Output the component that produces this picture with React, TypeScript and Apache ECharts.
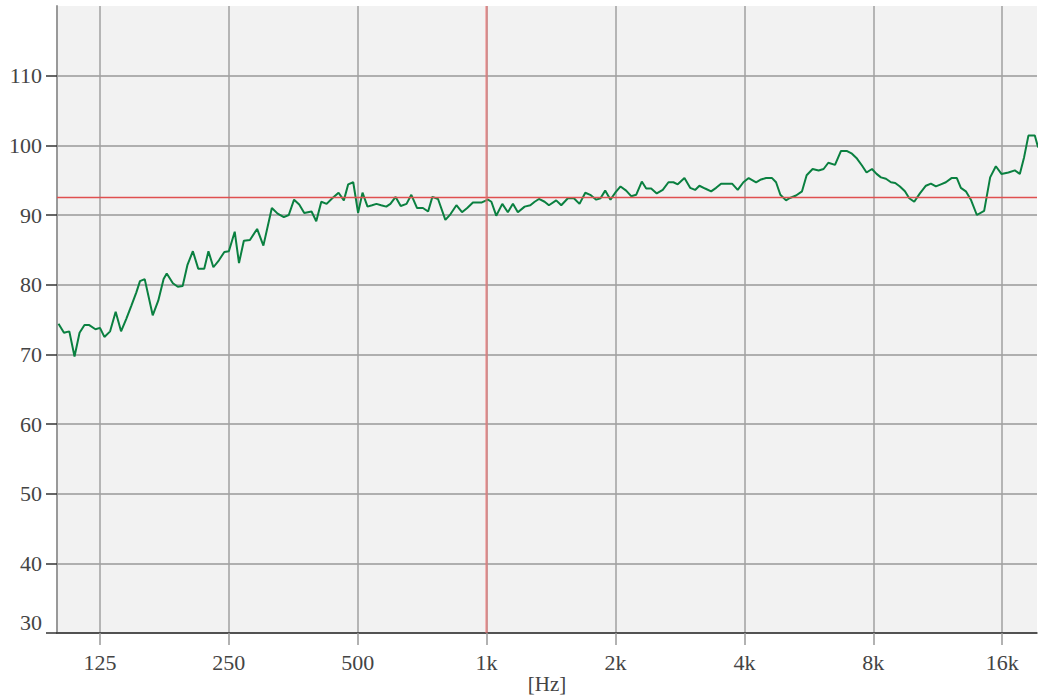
import React, { useEffect, useRef } from "react";
import * as echarts from "echarts";

// Frequencies (Hz) of the measured curve and their levels (dB)
const freqs: number[] = [
  100, 103, 106, 109, 112, 115, 118, 122, 125, 128, 132, 136, 140, 144, 148, 152, 155, 159, 166, 171,
  176, 179, 185, 190, 195, 200, 206, 212, 219, 224, 230, 237, 244, 250, 258, 264, 271, 280, 291, 301,
  315, 325, 336, 345, 355, 365, 375, 390, 400, 411, 423, 436, 451, 464, 475, 488, 501, 513, 527, 540,
  553, 567, 583, 596, 613, 630, 650, 667, 688, 710, 730, 747, 770, 801, 823, 850, 876, 901, 929, 953,
  975, 1007, 1026, 1053, 1088, 1121, 1152, 1183, 1227, 1265, 1295, 1325, 1366, 1398, 1454, 1494, 1548, 1599, 1648, 1700,
  1746, 1803, 1845, 1892, 1947, 1997, 2055, 2118, 2176, 2235, 2304, 2359, 2423, 2497, 2579, 2659, 2731, 2795, 2898, 2988,
  3069, 3141, 3239, 3345, 3436, 3529, 3636, 3744, 3859, 3979, 4094, 4260, 4376, 4495, 4642, 4743, 4854, 5005, 5094, 5281,
  5454, 5591, 5774, 5963, 6125, 6282, 6512, 6726, 6931, 7135, 7329, 7529, 7717, 7945, 8143, 8338, 8565, 8799, 9004, 9234,
  9486, 9708, 9972, 10282, 10619, 10908, 11205, 11510, 11823, 12184, 12543, 12815, 13164, 13523, 13966, 14525, 15001, 15468, 15940, 16552,
  17131, 17597, 18008, 18429, 19074, 19415,
];
const levels: number[] = [
  74.4, 73.1, 73.3, 69.7, 73.1, 74.2, 74.2, 73.6, 73.8, 72.5, 73.3, 76.1, 73.3, 75.1, 77.0, 78.9, 80.5, 80.8, 75.6, 77.7,
  80.8, 81.6, 80.2, 79.7, 79.8, 82.8, 84.8, 82.3, 82.3, 84.8, 82.5, 83.5, 84.7, 84.8, 87.6, 83.1, 86.3, 86.4, 88.0, 85.6,
  91.0, 90.2, 89.7, 90.0, 92.2, 91.5, 90.3, 90.5, 89.1, 91.9, 91.6, 92.4, 93.2, 92.1, 94.4, 94.7, 90.3, 93.2, 91.2, 91.4,
  91.6, 91.4, 91.2, 91.6, 92.6, 91.3, 91.6, 92.9, 91.0, 91.0, 90.5, 92.6, 92.3, 89.3, 90.1, 91.4, 90.4, 91.0, 91.8, 91.8,
  91.8, 92.2, 91.9, 89.9, 91.6, 90.4, 91.6, 90.4, 91.2, 91.4, 91.9, 92.3, 91.9, 91.4, 92.1, 91.4, 92.4, 92.4, 91.6, 93.2,
  92.9, 92.2, 92.4, 93.5, 92.2, 93.2, 94.1, 93.5, 92.7, 92.9, 94.8, 93.8, 93.8, 93.1, 93.6, 94.7, 94.7, 94.4, 95.3, 93.9,
  93.6, 94.2, 93.8, 93.4, 93.9, 94.5, 94.5, 94.5, 93.6, 94.7, 95.3, 94.7, 95.1, 95.3, 95.3, 94.7, 92.9, 92.1, 92.4, 92.8,
  93.4, 95.7, 96.6, 96.4, 96.6, 97.5, 97.2, 99.2, 99.2, 98.8, 98.1, 97.1, 96.1, 96.6, 95.9, 95.4, 95.2, 94.7, 94.6, 94.1,
  93.4, 92.4, 91.9, 93.1, 94.2, 94.5, 94.1, 94.4, 94.7, 95.3, 95.3, 93.9, 93.4, 92.2, 90.0, 90.6, 95.4, 97.0, 95.9, 96.1,
  96.4, 95.9, 98.3, 101.4, 101.4, 99.7,
];

// Axis ticks
const xTickFreqs: number[] = [125, 250, 500, 1000, 2000, 4000, 8000, 16000];
const xTickLabels: string[] = ["125", "250", "500", "1k", "2k", "4k", "8k", "16k"];
const yTicks: number[] = [30, 40, 50, 60, 70, 80, 90, 100, 110];
const freqMin = 99.2;
const freqMax = 19300;
const levelMin = 30;
const levelMax = 120;
const xAxisTitle = "[Hz]";

// Reference markers
const refLevel = 92.5;
const refFreq = 1000;

const toOct = (f: number) => Math.log2(f / 1000);

export default function App() {
  const ref = useRef<HTMLDivElement>(null);
  useEffect(() => {
    if (!ref.current) return;
    const chart = echarts.init(ref.current, null, { renderer: "svg" });
    const font = "serif";
    const fs = 22;
    const xTickVals = xTickFreqs.map(toOct);
    const data = freqs.map((f, i) => [toOct(f), levels[i]]);
    chart.setOption({
      animation: false,
      backgroundColor: "#ffffff",
      textStyle: { fontFamily: font },
      grid: {
        left: 57,
        right: 1,
        top: 6,
        bottom: 64,
        show: true,
        backgroundColor: "#f2f2f2",
        borderWidth: 0,
        containLabel: false,
        outerBoundsMode: "none",
      },
      graphic: [
        {
          type: "text",
          x: 547,
          y: 684,
          style: {
            text: xAxisTitle,
            align: "center",
            verticalAlign: "middle",
            fontFamily: font,
            fontSize: 21,
            fill: "#444",
          },
        },
      ],
      xAxis: {
        type: "value",
        min: toOct(freqMin),
        max: toOct(freqMax),
        axisLine: { show: true, onZero: false, lineStyle: { color: "#333", width: 1.5 } },
        axisTick: {
          show: true,
          length: 12,
          customValues: xTickVals,
          lineStyle: { color: "#999", width: 1.5 },
        },
        axisLabel: {
          customValues: xTickVals,
          margin: 18,
          fontFamily: font,
          fontSize: fs,
          color: "#444",
          formatter: (v: number) => {
            let best = 0;
            let bd = Infinity;
            xTickVals.forEach((t, i) => {
              const d = Math.abs(t - v);
              if (d < bd) {
                bd = d;
                best = i;
              }
            });
            return xTickLabels[best];
          },
        },
        splitLine: { show: true, lineStyle: { color: "#a0a0a0", width: 1.5 } },
      },
      yAxis: {
        type: "value",
        min: levelMin,
        max: levelMax,
        axisLine: { show: true, onZero: false, lineStyle: { color: "#999", width: 2 } },
        axisTick: {
          show: true,
          length: 11,
          customValues: yTicks,
          lineStyle: { color: "#333", width: 1.5 },
        },
        axisLabel: {
          customValues: yTicks,
          margin: 15,
          fontFamily: font,
          fontSize: fs,
          color: "#444",
          formatter: (v: number) => (Math.round(v) === levelMin ? `{b|${Math.round(v)}}` : `${Math.round(v)}`),
          rich: {
            b: { fontFamily: font, fontSize: fs, color: "#444", padding: [0, 0, 22, 0] },
          },
        },
        splitLine: { show: true, lineStyle: { color: "#999", width: 1.5 } },
      },
      series: [
        {
          type: "line",
          data,
          showSymbol: false,
          symbol: "none",
          lineStyle: { color: "#0a8040", width: 2 },
          clip: true,
          markLine: {
            silent: true,
            symbol: "none",
            label: { show: false },
            data: [
              { yAxis: refLevel, lineStyle: { color: "#e05050", width: 1.3, type: "solid" } },
              { xAxis: toOct(refFreq), lineStyle: { color: "rgba(240,110,110,0.6)", width: 2.5, type: "solid" } },
            ],
          },
        },
      ],
    });
    return () => chart.dispose();
  }, []);
  return <div ref={ref} style={{ position: "fixed", left: 0, top: 0, width: 1038, height: 697 }} />;
}
